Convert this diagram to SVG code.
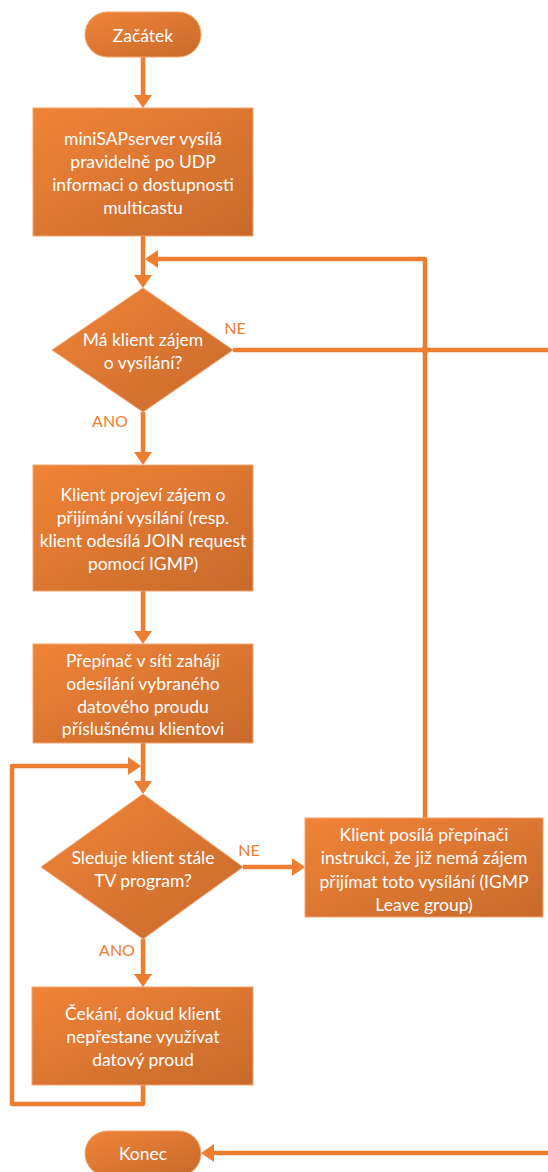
<svg xmlns="http://www.w3.org/2000/svg" width="548" height="1172" viewBox="0 0 548 1172">
  <defs>
    <linearGradient id="g" x1="0" y1="0" x2="1" y2="1">
      <stop offset="0" stop-color="#F08437"/>
      <stop offset="1" stop-color="#C8692C"/>
    </linearGradient>
    <marker id="ah" markerUnits="userSpaceOnUse" viewBox="0 0 13 18" refX="7" refY="9" markerWidth="13" markerHeight="18" orient="auto">
      <path d="M0,0 L13,9 L0,18 z" fill="#ED7D31"/>
    </marker>
    <style>
      .shape { fill: url(#g); stroke: #F2A46E; stroke-width: 1; }
      .t { font-family: Lato, "Open Sans", sans-serif; font-size: 17.5px; fill: #FFFFFF; text-anchor: middle; dominant-baseline: central; }
      .lbl { font-family: Lato, "Open Sans", sans-serif; font-size: 16px; fill: #ED7D31; text-anchor: middle; dominant-baseline: central; }
      .c { fill: none; stroke: #ED7D31; stroke-width: 4.5; stroke-linejoin: round; }
      .ca { fill: none; stroke: #ED7D31; stroke-width: 4.5; stroke-linejoin: round; marker-end: url(#ah); }
    </style>
  </defs>

  <g id="connectors">
    <path class="ca" d="M143,57 V102"/>
    <path class="ca" d="M143,236 V282"/>
    <path class="ca" d="M425,818 V259 H151"/>
    <path class="c" d="M233,350 H548"/>
    <circle cx="425" cy="350" r="3.5" fill="#ED7D31"/>
    <path class="ca" d="M143,412 V459"/>
    <path class="ca" d="M143,591 V638"/>
    <path class="ca" d="M143,743 V788"/>
    <path class="ca" d="M143,1085 V1104 H12 V766 H135"/>
    <path class="ca" d="M243,867 H299"/>
    <path class="ca" d="M143,939 V981"/>
    <path class="ca" d="M548,1153 H207"/>
    <text class="lbl" x="235" y="327">NE</text>
    <text class="lbl" x="110" y="420">ANO</text>
    <text class="lbl" x="249" y="849">NE</text>
    <text class="lbl" x="117" y="949">ANO</text>
  </g>

  <g id="start">
    <rect class="shape" x="85" y="12" width="116" height="45" rx="22.5"/>
    <text class="t" x="143" y="35">Začátek</text>
  </g>

  <g id="box1">
    <rect class="shape" x="33" y="108" width="220" height="128"/>
    <text class="t" x="143" y="138">miniSAPserver vysílá</text>
    <text class="t" x="143" y="161">pravidelně po UDP</text>
    <text class="t" x="143" y="184">informaci o dostupnosti</text>
    <text class="t" x="143" y="207">multicastu</text>
  </g>

  <g id="decision1">
    <polygon class="shape" points="143,288 233,350 143,412 52,350"/>
    <text class="t" x="143" y="339">Má klient zájem</text>
    <text class="t" x="143" y="362">o vysílání?</text>
  </g>

  <g id="box2">
    <rect class="shape" x="33" y="465" width="220" height="126"/>
    <text class="t" x="143" y="494">Klient projeví zájem o</text>
    <text class="t" x="143" y="517">přijímání vysílání (resp.</text>
    <text class="t" x="143" y="540">klient odesílá JOIN request</text>
    <text class="t" x="143" y="563">pomocí IGMP)</text>
  </g>

  <g id="box3">
    <rect class="shape" x="33" y="644" width="220" height="99"/>
    <text class="t" x="143" y="660">Přepínač v síti zahájí</text>
    <text class="t" x="143" y="683">odesílání vybraného</text>
    <text class="t" x="143" y="706">datového proudu</text>
    <text class="t" x="143" y="728">příslušnému klientovi</text>
  </g>

  <g id="decision2">
    <polygon class="shape" points="143,794 243,867 143,939 41,867"/>
    <text class="t" x="143" y="857">Sleduje klient stále</text>
    <text class="t" x="143" y="880">TV program?</text>
  </g>

  <g id="leave">
    <rect class="shape" x="305" y="818" width="238" height="99"/>
    <text class="t" x="424" y="834">Klient posílá přepínači</text>
    <text class="t" x="424" y="857">instrukci, že již nemá zájem</text>
    <text class="t" x="424" y="881">přijímat toto vysílání (IGMP</text>
    <text class="t" x="424" y="904">Leave group)</text>
  </g>

  <g id="box4">
    <rect class="shape" x="32" y="987" width="221" height="98"/>
    <text class="t" x="143" y="1013">Čekání, dokud klient</text>
    <text class="t" x="143" y="1036">nepřestane využívat</text>
    <text class="t" x="143" y="1059">datový proud</text>
  </g>

  <g id="end">
    <rect class="shape" x="85" y="1131" width="116" height="45" rx="22.5"/>
    <text class="t" x="143" y="1153">Konec</text>
  </g>
</svg>
